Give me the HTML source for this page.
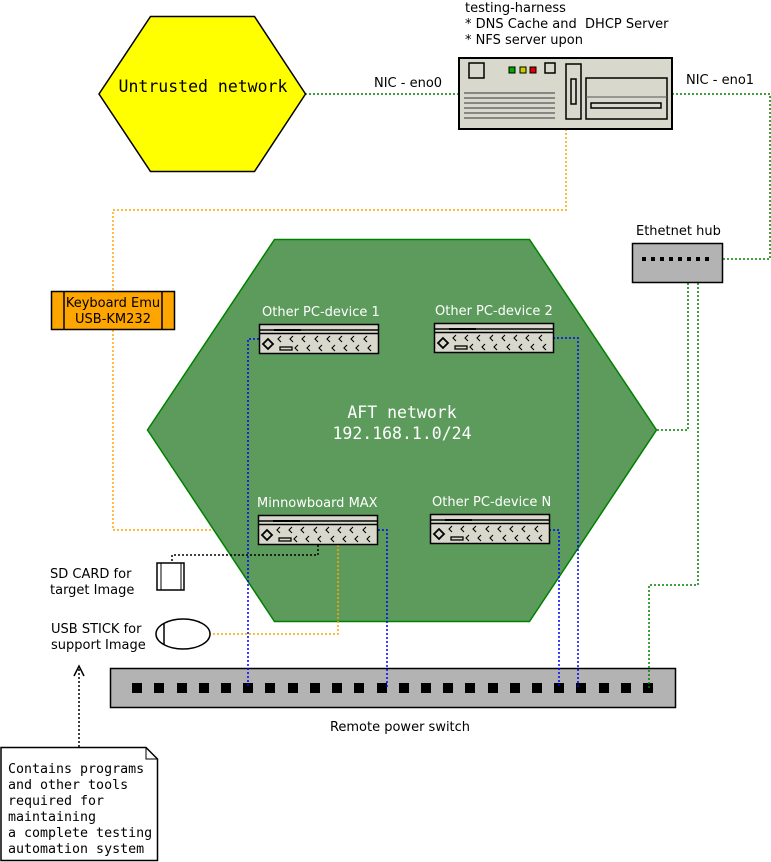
<!DOCTYPE html>
<html><head><meta charset="utf-8"><style>
html,body{margin:0;padding:0;background:#fff;}
svg{display:block}
.s{font-family:"DejaVu Sans","Liberation Sans",sans-serif;font-size:13px;fill:#000}
.m{font-family:"DejaVu Sans Mono","Liberation Mono",monospace}
</style></head><body>
<svg width="771" height="862" viewBox="0 0 771 862" xmlns="http://www.w3.org/2000/svg">
<defs>
<g id="dev">
  <rect x="0.5" y="0.5" width="119" height="29" fill="#d9d8cc" stroke="#000" stroke-width="1.5"/>
  <line x1="0.5" y1="6" x2="119.5" y2="6" stroke="#000" stroke-width="1.5"/>
  <line x1="15" y1="6" x2="42" y2="6" stroke="#000" stroke-width="2"/>
  <line x1="0.5" y1="9.5" x2="119.5" y2="9.5" stroke="#000" stroke-width="1.5"/>
  <path d="M9 15 L14 20 L9 25 L4 20 Z" fill="#d9d8cc" stroke="#000" stroke-width="1.8"/>
  <rect x="21" y="23" width="12" height="3" fill="#d9d8cc" stroke="#000" stroke-width="1.3"/>
  <g fill="none" stroke="#000" stroke-width="1.1">
    <path d="M22 12 l-3 3 l3 3 M34 12 l-3 3 l3 3 M46 12 l-3 3 l3 3 M59 12 l-3 3 l3 3 M71 12 l-3 3 l3 3 M83 12 l-3 3 l3 3 M95 12 l-3 3 l3 3 M108 12 l-3 3 l3 3"/>
    <path d="M39 21 l-3 3 l3 3 M51 21 l-3 3 l3 3 M63 21 l-3 3 l3 3 M76 21 l-3 3 l3 3 M88 21 l-3 3 l3 3 M100 21 l-3 3 l3 3 M112 21 l-3 3 l3 3"/>
  </g>
</g>
</defs>

<!-- connectors -->
<g fill="none" stroke-width="1.5" stroke-dasharray="2,2">
  <path d="M305 94 H458" stroke="#008000"/>
  <path d="M672 94 H770 V259 H710" stroke="#008000"/>
  <path d="M688 283 V430 H657" stroke="#008000"/>
  <path d="M566 129 V210 H113 V291" stroke="#ffa500"/>
  <path d="M113 330 V530 H258" stroke="#ffa500"/>
</g>

<!-- Untrusted hex -->
<polygon points="150.5,16.5 254.5,16.5 305.5,94 254.5,171.5 150.5,171.5 99,94" fill="#ffff00" stroke="#000" stroke-width="1.5"/>
<text x="203" y="92" class="m" font-size="16.5" text-anchor="middle">Untrusted network</text>

<!-- AFT hex -->
<polygon points="274.5,239.5 529.5,239.5 656.5,430 529.5,621.5 274.5,621.5 147.5,430" fill="#5d9b5d" stroke="#008000" stroke-width="1.5"/>
<text x="402" y="418" class="m" font-size="16.5" fill="#fff" text-anchor="middle">AFT network</text>
<text x="402" y="439" class="m" font-size="16.5" fill="#fff" text-anchor="middle">192.168.1.0/24</text>

<!-- power switch -->
<rect x="110.5" y="668.5" width="565" height="39" fill="#b3b3b3" stroke="#000" stroke-width="1.5"/>
<g fill="#000">
<rect x="132" y="683" width="10" height="10"/><rect x="154" y="683" width="10" height="10"/><rect x="177" y="683" width="10" height="10"/><rect x="199" y="683" width="10" height="10"/><rect x="221" y="683" width="10" height="10"/><rect x="243" y="683" width="10" height="10"/><rect x="265" y="683" width="10" height="10"/><rect x="288" y="683" width="10" height="10"/><rect x="310" y="683" width="10" height="10"/><rect x="332" y="683" width="10" height="10"/><rect x="354" y="683" width="10" height="10"/><rect x="377" y="683" width="10" height="10"/><rect x="399" y="683" width="10" height="10"/><rect x="421" y="683" width="10" height="10"/><rect x="443" y="683" width="10" height="10"/><rect x="465" y="683" width="10" height="10"/><rect x="488" y="683" width="10" height="10"/><rect x="510" y="683" width="10" height="10"/><rect x="532" y="683" width="10" height="10"/><rect x="554" y="683" width="10" height="10"/><rect x="576" y="683" width="10" height="10"/><rect x="599" y="683" width="10" height="10"/><rect x="621" y="683" width="10" height="10"/><rect x="643" y="683" width="10" height="10"/>
</g>
<text x="400" y="731" class="s" text-anchor="middle">Remote power switch</text>

<!-- connectors over AFT and switch -->
<g fill="none" stroke-width="1.5" stroke-dasharray="2,2">
  <path d="M698 283 V585 H649 V688" stroke="#008000"/>
  <path d="M338 545 V634 H210" stroke="#ffa500"/>
  <path d="M259 339 H248 V688" stroke="#0000ff"/>
  <path d="M553 338 H578 V688" stroke="#0000ff"/>
  <path d="M378 530 H387 V688" stroke="#0000ff"/>
  <path d="M549 530 H559 V688" stroke="#0000ff"/>
  <path d="M318 545 V555 H172 V562" stroke="#000"/>
  <path d="M79 747 V668" stroke="#000"/>
</g>
<path d="M74 676 L79 666 L84 676" fill="none" stroke="#000" stroke-width="1.5"/>

<!-- server -->
<g transform="translate(458,57)">
  <rect x="1" y="1" width="213" height="71" fill="#d9d8cc" stroke="#000" stroke-width="2"/>
  <rect x="11" y="6" width="15" height="15" fill="#d9d8cc" stroke="#000" stroke-width="1.5"/>
  <rect x="51" y="10" width="6" height="6" fill="#0a0" stroke="#000"/>
  <rect x="62" y="10" width="6" height="6" fill="#cc0" stroke="#000"/>
  <rect x="72" y="10" width="6" height="6" fill="#d00" stroke="#000"/>
  <rect x="87" y="6" width="10" height="10" fill="#d9d8cc" stroke="#000" stroke-width="1.5"/>
  <g stroke="#555" stroke-width="1.2"><line x1="6" y1="36" x2="97" y2="36"/><line x1="6" y1="41" x2="97" y2="41"/><line x1="6" y1="46" x2="97" y2="46"/><line x1="6" y1="51" x2="97" y2="51"/><line x1="6" y1="56" x2="97" y2="56"/><line x1="6" y1="61" x2="97" y2="61"/></g>
  <rect x="108" y="7" width="15" height="55" fill="#d9d8cc" stroke="#000" stroke-width="1.5"/>
  <rect x="113" y="22" width="5" height="25" fill="#d9d8cc" stroke="#000" stroke-width="1.5"/>
  <rect x="128" y="21" width="81" height="41" fill="#d9d8cc" stroke="#000" stroke-width="1.5"/>
  <line x1="128" y1="40" x2="209" y2="40" stroke="#555"/>
  <rect x="133" y="46" width="70" height="5" fill="#d9d8cc" stroke="#000" stroke-width="1.5"/>
</g>
<text x="465" y="12" class="s">testing-harness</text>
<text x="465" y="28" class="s">* DNS Cache and&#160; DHCP Server</text>
<text x="465" y="44" class="s">* NFS server upon</text>
<text x="374" y="87" class="s">NIC - eno0</text>
<text x="686" y="84" class="s">NIC - eno1</text>

<!-- hub -->
<text x="636" y="235" class="s">Ethetnet hub</text>
<rect x="632.5" y="243.5" width="90" height="39" fill="#b3b3b3" stroke="#000" stroke-width="1.5"/>
<g fill="#000"><rect x="642" y="257" width="4" height="4"/><rect x="651" y="257" width="4" height="4"/><rect x="660" y="257" width="4" height="4"/><rect x="669" y="257" width="4" height="4"/><rect x="678" y="257" width="4" height="4"/><rect x="687" y="257" width="4" height="4"/><rect x="696" y="257" width="4" height="4"/><rect x="705" y="257" width="4" height="4"/></g>

<!-- keyboard -->
<rect x="51.5" y="291.5" width="123" height="38" fill="#ffa500" stroke="#000" stroke-width="1.5"/>
<line x1="64" y1="291" x2="64" y2="330" stroke="#000" stroke-width="1.5"/>
<line x1="162" y1="291" x2="162" y2="330" stroke="#000" stroke-width="1.5"/>
<text x="113" y="307" class="s" text-anchor="middle">Keyboard Emu</text>
<text x="113" y="323" class="s" text-anchor="middle">USB-KM232</text>

<!-- devices -->
<use href="#dev" x="259" y="324"/>
<use href="#dev" x="434" y="323"/>
<use href="#dev" x="258" y="515"/>
<use href="#dev" x="430" y="514"/>
<text x="262" y="316" class="s" style="fill:#fff">Other PC-device 1</text>
<text x="435" y="315" class="s" style="fill:#fff">Other PC-device 2</text>
<text x="257" y="507" class="s" style="fill:#fff">Minnowboard MAX</text>
<text x="432" y="506" class="s" style="fill:#fff">Other PC-device N</text>

<!-- SD card -->
<rect x="157" y="563" width="27" height="27" fill="#fff" stroke="#000" stroke-width="1.5"/>
<line x1="161" y1="563" x2="161" y2="590" stroke="#000" stroke-width="1"/>
<line x1="181" y1="563" x2="181" y2="590" stroke="#000" stroke-width="1"/>
<text x="50" y="578" class="s">SD CARD for</text>
<text x="50" y="594" class="s">target Image</text>

<!-- USB stick -->
<ellipse cx="183" cy="634" rx="27" ry="15" fill="#fff" stroke="#000" stroke-width="1.5"/>
<line x1="164" y1="623" x2="164" y2="645" stroke="#000" stroke-width="1.5"/>
<text x="51" y="633" class="s">USB STICK for</text>
<text x="51" y="649" class="s">support Image</text>

<!-- note -->
<path d="M1 747.5 H146 L157.5 759 V860.5 H1 Z" fill="#fff" stroke="#000" stroke-width="1.5"/>
<path d="M146 747.5 V759 H157.5" fill="none" stroke="#000" stroke-width="1"/>
<g class="m" font-size="13.3">
<text x="8" y="773">Contains programs</text>
<text x="8" y="789">and other tools</text>
<text x="8" y="805">required for</text>
<text x="8" y="821">maintaining</text>
<text x="8" y="837">a complete testing</text>
<text x="8" y="853">automation system</text>
</g>
</svg>
</body></html>
